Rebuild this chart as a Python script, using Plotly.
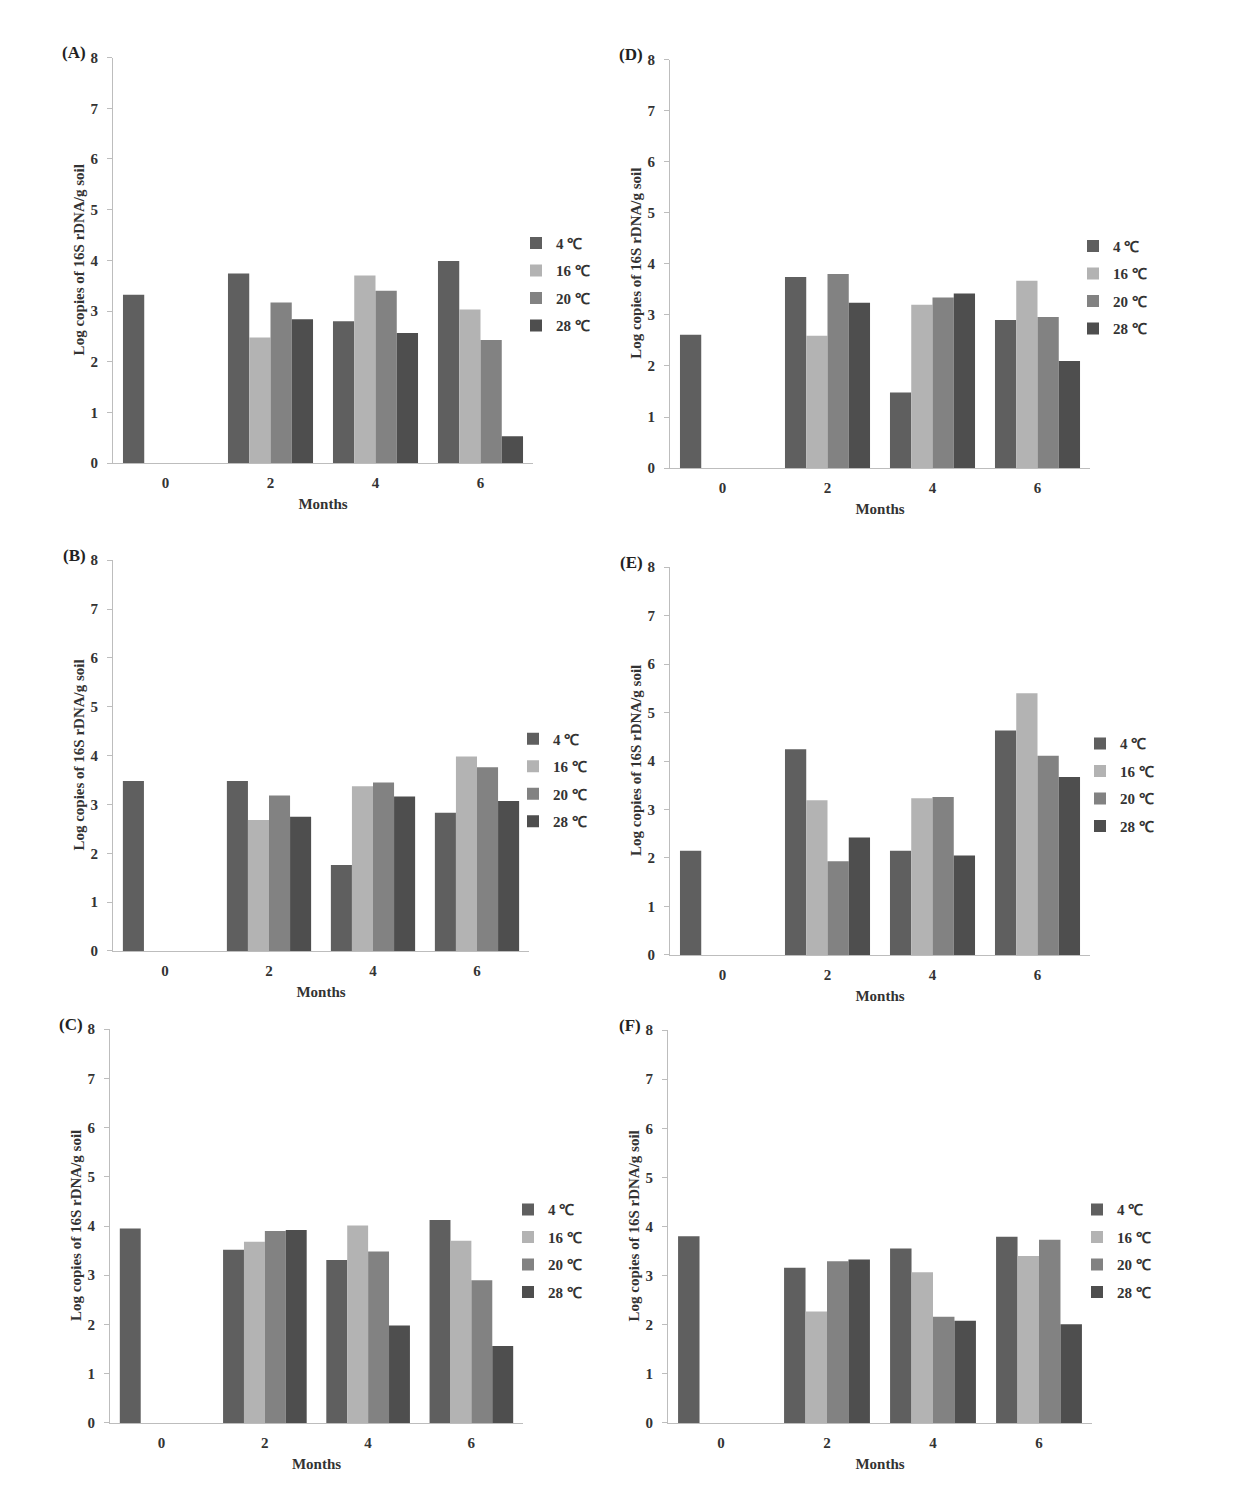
import plotly.graph_objects as go

months = ["0", "2", "4", "6"]
series_names = ["4 ℃", "16 ℃", "20 ℃", "28 ℃"]
colors = ["#5f5f5f", "#b3b3b3", "#828282", "#4e4e4e"]
y_ticks = [0, 1, 2, 3, 4, 5, 6, 7, 8]
y_title = "Log copies of 16S rDNA/g soil"
x_title = "Months"

# Panel data: values per month 0,2,4,6 for each temperature
A_4 = [3.32, 3.74, 2.80, 3.99]
A_16 = [None, 2.48, 3.70, 3.03]
A_20 = [None, 3.17, 3.40, 2.43]
A_28 = [None, 2.84, 2.57, 0.53]

B_4 = [3.48, 3.48, 1.76, 2.83]
B_16 = [None, 2.68, 3.37, 3.98]
B_20 = [None, 3.18, 3.45, 3.76]
B_28 = [None, 2.75, 3.16, 3.07]

C_4 = [3.95, 3.52, 3.31, 4.12]
C_16 = [None, 3.68, 4.01, 3.70]
C_20 = [None, 3.90, 3.48, 2.90]
C_28 = [None, 3.92, 1.98, 1.56]

D_4 = [2.61, 3.74, 1.48, 2.90]
D_16 = [None, 2.59, 3.20, 3.67]
D_20 = [None, 3.80, 3.34, 2.96]
D_28 = [None, 3.24, 3.42, 2.10]

E_4 = [2.15, 4.24, 2.15, 4.63]
E_16 = [None, 3.19, 3.23, 5.40]
E_20 = [None, 1.93, 3.26, 4.11]
E_28 = [None, 2.42, 2.05, 3.67]

F_4 = [3.80, 3.16, 3.55, 3.79]
F_16 = [None, 2.27, 3.07, 3.40]
F_20 = [None, 3.29, 2.16, 3.73]
F_28 = [None, 3.33, 2.08, 2.01]

panels = [
    ("(A)", [A_4, A_16, A_20, A_28]),
    ("(B)", [B_4, B_16, B_20, B_28]),
    ("(C)", [C_4, C_16, C_20, C_28]),
    ("(D)", [D_4, D_16, D_20, D_28]),
    ("(E)", [E_4, E_16, E_20, E_28]),
    ("(F)", [F_4, F_16, F_20, F_28]),
]

W, H = 1250, 1507
OFF = 8  # default page body margin


def px(x):
    return (x - OFF) / W


def py(y):
    return 1 - (y - OFF) / H


# screen-pixel boxes: (x0, x1, ytop, ybottom, legend text x, legend first-item center y)
boxes = [
    (113, 533, 50, 460, 556, 241),
    (113, 529, 558, 953, 553, 742),
    (110, 523, 1032, 1430, 548, 1218),
    (670, 1090, 52, 465, 1113, 244),
    (670, 1090, 565, 957, 1120, 747),
    (668, 1092, 1033, 1430, 1117, 1218),
]

FONT = "Liberation Serif, Times New Roman, serif"
TXT = "#333333"

fig = go.Figure()
layout = dict(
    width=W, height=H,
    margin=dict(l=0, r=0, t=0, b=0),
    paper_bgcolor="white", plot_bgcolor="white",
    barmode="group", bargap=0.19, bargroupgap=0,
    font=dict(family=FONT, size=14, color=TXT),
    annotations=[],
)

for i, (label, data) in enumerate(panels):
    n = i + 1
    xa = "x" if n == 1 else f"x{n}"
    ya = "y" if n == 1 else f"y{n}"
    lg = "legend" if n == 1 else f"legend{n}"
    for j, (name, vals) in enumerate(zip(series_names, data)):
        fig.add_trace(go.Bar(
            x=months, y=vals, name=name,
            marker=dict(color=colors[j], line=dict(width=0)),
            xaxis=xa, yaxis=ya, legend=lg, legendgroup=f"{label}{j}",
        ))
    x0, x1, yt, yb, lx, ly = boxes[i]
    xkey = "xaxis" if n == 1 else f"xaxis{n}"
    ykey = "yaxis" if n == 1 else f"yaxis{n}"
    layout[xkey] = dict(
        domain=[px(x0), px(x1)], anchor=ya, type="category",
        showline=True, linecolor="#bdbdbd", linewidth=1, ticks="",
        showgrid=False, zeroline=False, ticklabelstandoff=6,
        tickfont=dict(family=FONT, size=15, weight="bold", color=TXT),
        title=dict(text=x_title, standoff=8,
                   font=dict(family=FONT, size=15, weight="bold", color=TXT)),
    )
    layout[ykey] = dict(
        domain=[py(yb), py(yt)], anchor=xa, range=[0, 8],
        tickvals=y_ticks, showline=True, linecolor="#bdbdbd", linewidth=1,
        ticks="outside", ticklen=5, tickcolor="#bdbdbd", ticklabelstandoff=6,
        showgrid=False, zeroline=False,
        tickfont=dict(family=FONT, size=15, weight="bold", color=TXT),
    )
    layout[lg] = dict(
        x=px(lx - 40), y=py(ly - 20), xanchor="left", yanchor="top",
        traceorder="grouped", tracegroupgap=5, itemwidth=30,
        font=dict(family=FONT, size=15, weight="bold", color=TXT),
        bgcolor="rgba(0,0,0,0)",
    )
    layout["annotations"].append(dict(
        text=f"<b>{label}</b>", xref="paper", yref="paper",
        x=px(x0 - 25), y=py(yt - 5), xanchor="right", yanchor="middle",
        showarrow=False, font=dict(family=FONT, size=17, color="#222222"),
    ))
    layout["annotations"].append(dict(
        text=f"<b>{y_title}</b>", xref="paper", yref="paper",
        x=px(x0 - 34), y=py((yt + yb) / 2), xanchor="center", yanchor="middle",
        textangle=-90, showarrow=False,
        font=dict(family=FONT, size=15, color=TXT),
    ))

fig.update_layout(**layout)
fig.write_html("out.html")
